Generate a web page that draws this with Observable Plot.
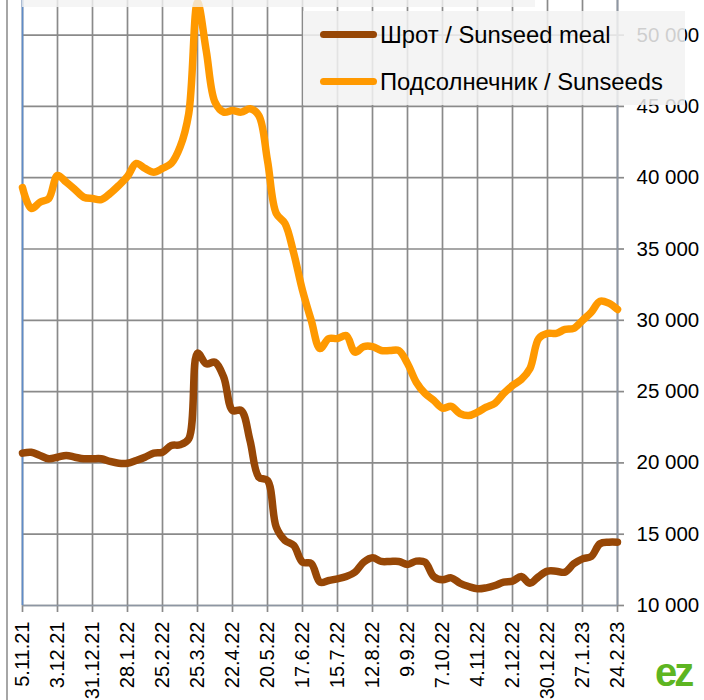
<!DOCTYPE html>
<html>
<head>
<meta charset="utf-8">
<script src="https://cdn.jsdelivr.net/npm/d3@7"></script>
<script src="https://cdn.jsdelivr.net/npm/@observablehq/plot@0.6"></script>
<style>
  body { margin: 0; background: #fff; }
  #wrap { position: relative; width: 704px; height: 700px; overflow: hidden; font-family: "Liberation Sans", Arial, sans-serif; }
  #wrap svg { position: absolute; left: 0; top: 0; }
  .frame { position: absolute; left: 6px; top: 0; width: 1.5px; height: 700px; background: #a6a6a6; }
  .band { position: absolute; left: 22px; top: 0; width: 513px; height: 7px; background: rgba(242,242,242,0.8); }
  .legend { position: absolute; left: 303px; top: 11px; width: 382px; height: 94px; background: rgba(242,242,242,0.85); }
  .item { position: absolute; left: 17px; height: 30px; font-size: 23.8px; color: #000; white-space: nowrap; }
  .item .sw { position: absolute; left: 0; top: 11px; width: 57px; height: 7px; border-radius: 4px; }
  .item span.t { position: absolute; left: 60px; top: 0; line-height: 30px; }
  .logo { position: absolute; left: 655px; top: 650px; font-size: 40px; line-height: 44px; font-weight: bold; color: #5db521; letter-spacing: -3px; }
</style>
</head>
<body>
<div id="wrap"></div>
<script>
// Series names and colours
const seriesNames = ["Шрот / Sunseed meal", "Подсолнечник / Sunseeds"];
const seriesColors = ["#974706", "#ff9900"];

// Weekly values, 5.11.21 .. 24.2.23 (69 weeks)
const meal = [20680, 20750, 20520, 20290, 20400, 20520, 20400, 20290, 20290, 20290,
  20100, 19980, 19980, 20170, 20400, 20680, 20750, 21220, 21270, 21690,
  27700, 26950, 27060, 26010, 23680, 23680, 21570, 19000, 18770, 15490,
  14560, 14210, 13040, 12950, 11640, 11750, 11870, 12030, 12340, 13040,
  13350, 13090, 13090, 13090, 12880, 13110, 13040, 12030, 11800, 11940,
  11560, 11330, 11170, 11240, 11400, 11640, 11710, 12030, 11560, 12030,
  12410, 12410, 12340, 12920, 13270, 13440, 14330, 14440, 14440];

const seeds = [39300, 37840, 38280, 38540, 40160, 39690, 39170, 38630, 38540, 38470,
  38890, 39450, 40090, 41000, 40650, 40390, 40650, 41000, 42140, 44500,
  52300, 48900, 45300, 44600, 44710, 44600, 44830, 44360, 41200, 37500,
  36790, 34700, 32100, 29990, 28020, 28720, 28720, 28930, 27760, 28160,
  28160, 27880, 27880, 27880, 26970, 25660, 24870, 24380, 23840, 23960,
  23460, 23320, 23560, 23910, 24190, 24870, 25430, 25850, 26620, 28720,
  29080, 29080, 29360, 29430, 29990, 30570, 31340, 31200, 30760];

// Axis tick labels
const xTickLabels = ["5.11.21", "3.12.21", "31.12.21", "28.1.22", "25.2.22", "25.3.22",
  "22.4.22", "20.5.22", "17.6.22", "15.7.22", "12.8.22", "9.9.22", "7.10.22",
  "4.11.22", "2.12.22", "30.12.22", "27.1.23", "24.2.23"];
const yTicks = [10000, 15000, 20000, 25000, 30000, 35000, 40000, 45000, 50000];

const parseLabel = s => { const [d, m, y] = s.split(".").map(Number); return new Date(Date.UTC(2000 + y, m - 1, d)); };
const xTickDates = xTickLabels.map(parseLabel);
const startDate = xTickDates[0];
const endDate = xTickDates[xTickDates.length - 1];
const weekDate = i => new Date(startDate.getTime() + i * 7 * 864e5);

const rows = [];
meal.forEach((v, i) => rows.push({date: weekDate(i), value: v, series: seriesNames[0]}));
seeds.forEach((v, i) => rows.push({date: weekDate(i), value: v, series: seriesNames[1]}));

const labelFor = new Map(xTickDates.map((d, i) => [+d, xTickLabels[i]]));
const gray = "#8a8a8a";
const axisGray = "#8d96a3";

const chart = Plot.plot({
  width: 704,
  height: 700,
  marginLeft: 22,
  marginRight: 87,
  marginTop: 0,
  marginBottom: 95,
  style: {fontFamily: "'Liberation Sans', Arial, sans-serif", background: "transparent", overflow: "visible"},
  x: {type: "utc", domain: [startDate, endDate]},
  y: {domain: [10000, 52427]},
  color: {domain: seriesNames, range: seriesColors},
  marks: [
    Plot.gridX(xTickDates, {stroke: gray, strokeOpacity: 1, strokeWidth: 1.7}),
    Plot.gridY(yTicks, {stroke: gray, strokeOpacity: 1, strokeWidth: 1.7}),
    Plot.axisX(xTickDates, {
      tickSize: 7, tickPadding: 9, tickRotate: -90, fontSize: 20,
      tickFormat: d => labelFor.get(+d), stroke: gray, fill: "#000", strokeWidth: 1.7, label: null
    }),
    Plot.axisY(yTicks, {
      anchor: "right", tickSize: 6, tickPadding: 13, fontSize: 20.5,
      tickFormat: d => d3.format(",")(d).replace(",", " "), stroke: gray, fill: "#000", strokeWidth: 1.7, label: null
    }),
    Plot.ruleY([10000], {stroke: axisGray, strokeWidth: 1.7}),
    Plot.ruleX([endDate], {stroke: axisGray, strokeWidth: 1.7}),
    Plot.ruleX([startDate], {stroke: "#5f8cc8", strokeWidth: 1.7}),
    Plot.line(rows, {
      x: "date", y: "value", z: "series", stroke: "series",
      strokeWidth: 7.5, curve: "catmull-rom", strokeLinejoin: "round", strokeLinecap: "round"
    })
  ]
});

const wrap = document.getElementById("wrap");
const frame = document.createElement("div"); frame.className = "frame"; wrap.appendChild(frame);
wrap.appendChild(chart);
const band = document.createElement("div"); band.className = "band"; wrap.appendChild(band);

const legend = document.createElement("div"); legend.className = "legend";
seriesNames.forEach((name, i) => {
  const it = document.createElement("div"); it.className = "item";
  it.style.top = (9 + i * 47) + "px";
  const sw = document.createElement("div"); sw.className = "sw"; sw.style.background = seriesColors[i];
  const t = document.createElement("span"); t.className = "t"; t.textContent = name;
  it.appendChild(sw); it.appendChild(t); legend.appendChild(it);
});
wrap.appendChild(legend);

const logo = document.createElement("div"); logo.className = "logo"; logo.textContent = "ez";
wrap.appendChild(logo);
</script>
</body>
</html>
